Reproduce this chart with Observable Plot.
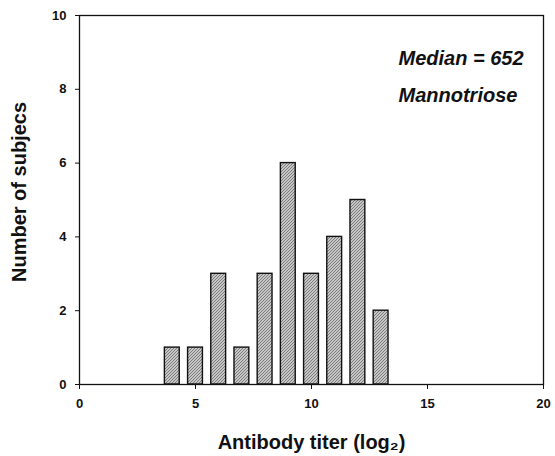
<!DOCTYPE html>
<html>
<head>
<meta charset="utf-8">
<script src="https://cdn.jsdelivr.net/npm/d3@7"></script>
<script src="https://cdn.jsdelivr.net/npm/@observablehq/plot@0.6"></script>
<style>
  html, body { margin: 0; padding: 0; background: #fff; }
  svg { display: block; }
</style>
</head>
<body>
<div id="chart"></div>
<script>
const titers = [4, 5, 6, 7, 8, 9, 10, 11, 12, 13];
const subjects = [1, 1, 3, 1, 3, 6, 3, 4, 5, 2];
const xTicks = [0, 5, 10, 15, 20];
const yTicks = [0, 2, 4, 6, 8, 10];
const annotations = ["Median = 652", "Mannotriose"];
const annotationY = [8.83, 7.83];
const barHalfWidth = 0.32;

const data = titers.map((t, i) => ({t, n: subjects[i]}));
const notes = annotations.map((s, i) => ({s, y: annotationY[i]}));

function hatchDefs() {
  const defs = d3.create("svg:defs");
  const p = defs.append("pattern")
    .attr("id", "hatch").attr("patternUnits", "userSpaceOnUse")
    .attr("width", 3).attr("height", 3);
  p.append("rect").attr("width", 3).attr("height", 3).attr("fill", "#c6c6c6");
  p.append("path").attr("d", "M0,3L3,0M-1,1L1,-1M2,4L4,2")
    .attr("stroke", "#6a6a6a").attr("stroke-width", 0.8);
  return defs.node();
}

const chart = Plot.plot({
  width: 555,
  height: 456,
  marginLeft: 79,
  marginRight: 12,
  marginTop: 15,
  marginBottom: 72,
  style: {fontFamily: "'Liberation Sans', Arial, sans-serif", background: "#fff"},
  x: {domain: [0, 20], ticks: xTicks, label: null},
  y: {domain: [0, 10], ticks: yTicks, label: null},
  marks: [
    hatchDefs,
    Plot.rectY(data, {
      x1: d => d.t - barHalfWidth,
      x2: d => d.t + barHalfWidth,
      y: "n",
      fill: "url(#hatch)",
      stroke: "#111",
      strokeWidth: 1.4
    }),
    Plot.frame({stroke: "#111", strokeWidth: 1.3}),
    Plot.axisX({ticks: xTicks, tickSize: 5, tickPadding: 9, fontSize: 13, fontWeight: "bold", label: null, stroke: "#111", fill: "#111"}),
    Plot.axisY({ticks: yTicks, tickSize: 4, tickPadding: 9, fontSize: 13, fontWeight: "bold", label: null, stroke: "#111", fill: "#111"}),
    Plot.text(notes, {
      x: 13.75, y: "y", text: "s", textAnchor: "start",
      fontSize: 20, fontWeight: "bold", fontStyle: "italic", fill: "#111"
    }),
    Plot.text(["Antibody titer (log₂)"], {
      frameAnchor: "bottom", textAnchor: "middle", lineAnchor: "middle", dy: 58, text: d => d,
      fontSize: 20, fontWeight: "bold", fill: "#111"
    }),
    Plot.text(["Number of subjecs"], {
      frameAnchor: "left", textAnchor: "middle", lineAnchor: "middle", dx: -60, dy: -8, rotate: -90, text: d => d,
      fontSize: 20, fontWeight: "bold", fill: "#111"
    })
  ]
});
document.getElementById("chart").appendChild(chart);
</script>
</body>
</html>
